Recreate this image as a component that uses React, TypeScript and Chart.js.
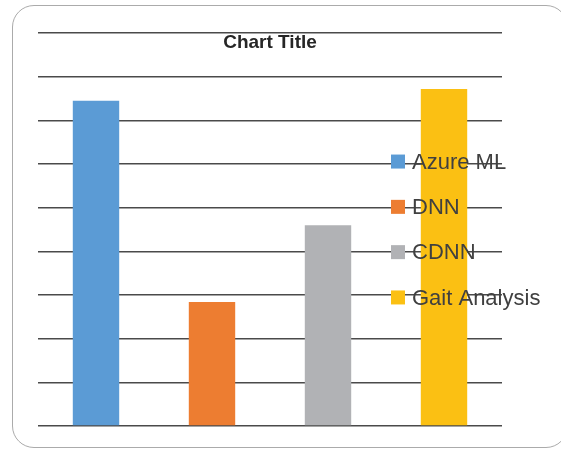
import React, { useEffect, useRef } from 'react';
import { Chart, registerables } from 'chart.js';

Chart.register(...registerables);

const categories = ['Azure ML', 'DNN', 'CDNN', 'Gait Analysis'];
const values = [7.45, 2.84, 4.6, 7.72];
const colors = ['#5B9BD5', '#ED7D31', '#B1B2B5', '#FBC013'];
const yMin = 0;
const yMax = 9;
const yStep = 1;
const titleText = 'Chart Title';

const FONT = '"Liberation Sans", Arial, sans-serif';

const overlayPlugin = {
  id: 'overlay',
  afterDraw(chart: any) {
    const { ctx, chartArea } = chart;
    ctx.save();
    // title
    ctx.fillStyle = '#262626';
    ctx.font = `bold 19px ${FONT}`;
    ctx.textAlign = 'center';
    ctx.textBaseline = 'alphabetic';
    ctx.fillText(titleText, (chartArea.left + chartArea.right) / 2, chartArea.top + 14.5);
    // legend
    const labels: string[] = chart.data.labels;
    const bg: string[] = chart.data.datasets[0].backgroundColor;
    const spacing = 45.3;
    const midY = (chartArea.top + chartArea.bottom) / 2;
    const startY = midY - (spacing * (labels.length - 1)) / 2;
    const boxX = chartArea.right - 111;
    const box = 14;
    ctx.font = `22px ${FONT}`;
    ctx.textAlign = 'left';
    ctx.textBaseline = 'middle';
    labels.forEach((l, i) => {
      const cy = startY + i * spacing;
      ctx.fillStyle = bg[i];
      ctx.fillRect(boxX, cy - box / 2, box, box);
      ctx.fillStyle = '#404040';
      ctx.fillText(l, boxX + 21, cy + 1);
    });
    ctx.restore();
  },
};

export default function App() {
  const ref = useRef<HTMLCanvasElement | null>(null);
  useEffect(() => {
    if (!ref.current) return;
    const chart = new Chart(ref.current, {
      type: 'bar',
      data: {
        labels: categories,
        datasets: [
          {
            label: 'Series 1',
            data: values,
            backgroundColor: colors,
            borderWidth: 0,
            categoryPercentage: 1,
            barPercentage: 0.4,
          },
        ],
      },
      options: {
        responsive: false,
        animation: false,
        layout: { padding: { left: 38, right: 59, top: 33, bottom: 23 } },
        plugins: {
          legend: { display: false },
          title: { display: false },
          tooltip: { enabled: false },
        },
        scales: {
          x: { display: false },
          y: {
            min: yMin,
            max: yMax,
            ticks: { display: false, stepSize: yStep },
            border: { display: false },
            grid: { color: '#4a4a4a', lineWidth: 1.4, drawTicks: false, tickLength: 0 },
          },
        },
      },
      plugins: [overlayPlugin],
    });
    return () => chart.destroy();
  }, []);
  return (
    <div style={{ position: 'absolute', left: 0, top: 0, width: 561, height: 449, overflow: 'hidden', background: '#fff' }}>
      <div
        style={{
          position: 'absolute',
          left: 12,
          top: 5,
          width: 556,
          height: 443,
          border: '1.5px solid #ababab',
          borderRadius: 22,
          boxSizing: 'border-box',
        }}
      />
      <canvas ref={ref} width={561} height={449} style={{ position: 'absolute', left: 0, top: 0 }} />
    </div>
  );
}
